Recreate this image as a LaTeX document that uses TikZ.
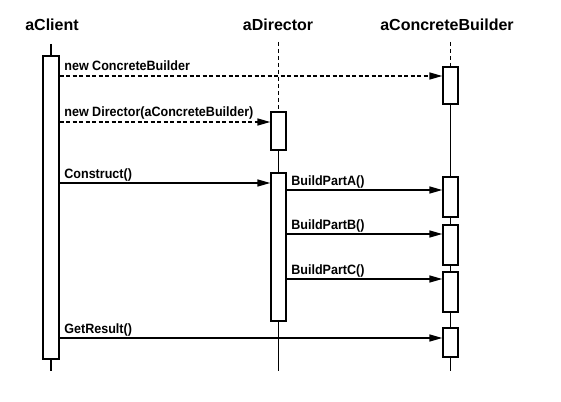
\documentclass[tikz,border=0pt]{standalone}
\usepackage{fontspec}
\setmainfont{Liberation Sans}
\newfontfamily\lblfont[FakeStretch=0.93]{Liberation Sans}
\usetikzlibrary{arrows.meta, positioning, calc, backgrounds}
\tikzset{
  every picture/.style={line width=1.2pt},
  head/.style={font=\bfseries\fontsize{16}{19}\selectfont, inner sep=0pt},
  act/.style={draw, fill=white, minimum width=15pt, inner sep=0pt, line width=1.3pt},
  call/.style={-{Triangle[length=13pt, width=7pt]}, line width=1.4pt},
  create/.style={call, dash pattern=on 4pt off 2.5pt},
  life/.style={line width=1.2pt},
  msg/.style={font=\lblfont\bfseries\fontsize{13.5}{15}\selectfont, anchor=base west, inner sep=0pt, xshift=4pt, yshift=5pt},
}

\begin{document}
\begin{tikzpicture}[x=1pt, y=-1pt]
  \useasboundingbox (0,0) rectangle (561,401);
  % objects
  \node[head] (client) at (52,25) {aClient};
  \node[head] (director) at (278,25) {aDirector};
  \node[head] (builder) at (447,25) {aConcreteBuilder};
  % activations
  \node[act, minimum width=16pt, minimum height=303pt] (ca) at (51,207.5) {};
  \node[act, minimum height=38pt] (da1) at (278.5,131) {};
  \node[act, minimum height=148pt] (da2) at (278.5,247) {};
  \node[act, minimum height=37pt] (ba1) at (450.5,85.5) {};
  \node[act, minimum height=40pt] (ba2) at (450.5,197) {};
  \node[act, minimum height=40pt] (ba3) at (450.5,245) {};
  \node[act, minimum height=40pt] (ba4) at (450.5,292) {};
  \node[act, minimum height=29pt] (ba5) at (450.5,342.5) {};
  % lifelines
  \begin{scope}[on background layer]
    \draw[life] (ca.north |- 0,44) -- (ca.north);
    \draw[life] (ca.south) -- (ca.south |- 0,371);
    \draw[life, dash pattern=on 4pt off 3pt] (da1.north |- 0,42) -- (da1.north);
    \draw[life] (da1.south) -- (da2.north);
    \draw[life] (da2.south) -- (da2.south |- 0,371);
    \draw[life, dash pattern=on 4pt off 3pt] (ba1.north |- 0,42) -- (ba1.north);
    \draw[life] (ba1.south) -- (ba2.north);
    \draw[life] (ba2.south) -- (ba3.north);
    \draw[life] (ba3.south) -- (ba4.north);
    \draw[life] (ba4.south) -- (ba5.north);
    \draw[life] (ba5.south) -- (ba5.south |- 0,371);
  \end{scope}
  % messages
  \draw[create] (ca.east |- 0,76) -- node[msg, pos=0] {new ConcreteBuilder} (ba1.west |- 0,76);
  \draw[create] (ca.east |- 0,122) -- node[msg, pos=0] {new Director(aConcreteBuilder)} (da1.west |- 0,122);
  \draw[call] (ca.east |- 0,183) -- node[msg, pos=0] {Construct()} (da2.west |- 0,183);
  \draw[call] (da2.east |- 0,190) -- node[msg, pos=0] {BuildPartA()} (ba2.west |- 0,190);
  \draw[call] (da2.east |- 0,234) -- node[msg, pos=0] {BuildPartB()} (ba3.west |- 0,234);
  \draw[call] (da2.east |- 0,279) -- node[msg, pos=0] {BuildPartC()} (ba4.west |- 0,279);
  \draw[call] (ca.east |- 0,338) -- node[msg, pos=0] {GetResult()} (ba5.west |- 0,338);
\end{tikzpicture}
\end{document}
